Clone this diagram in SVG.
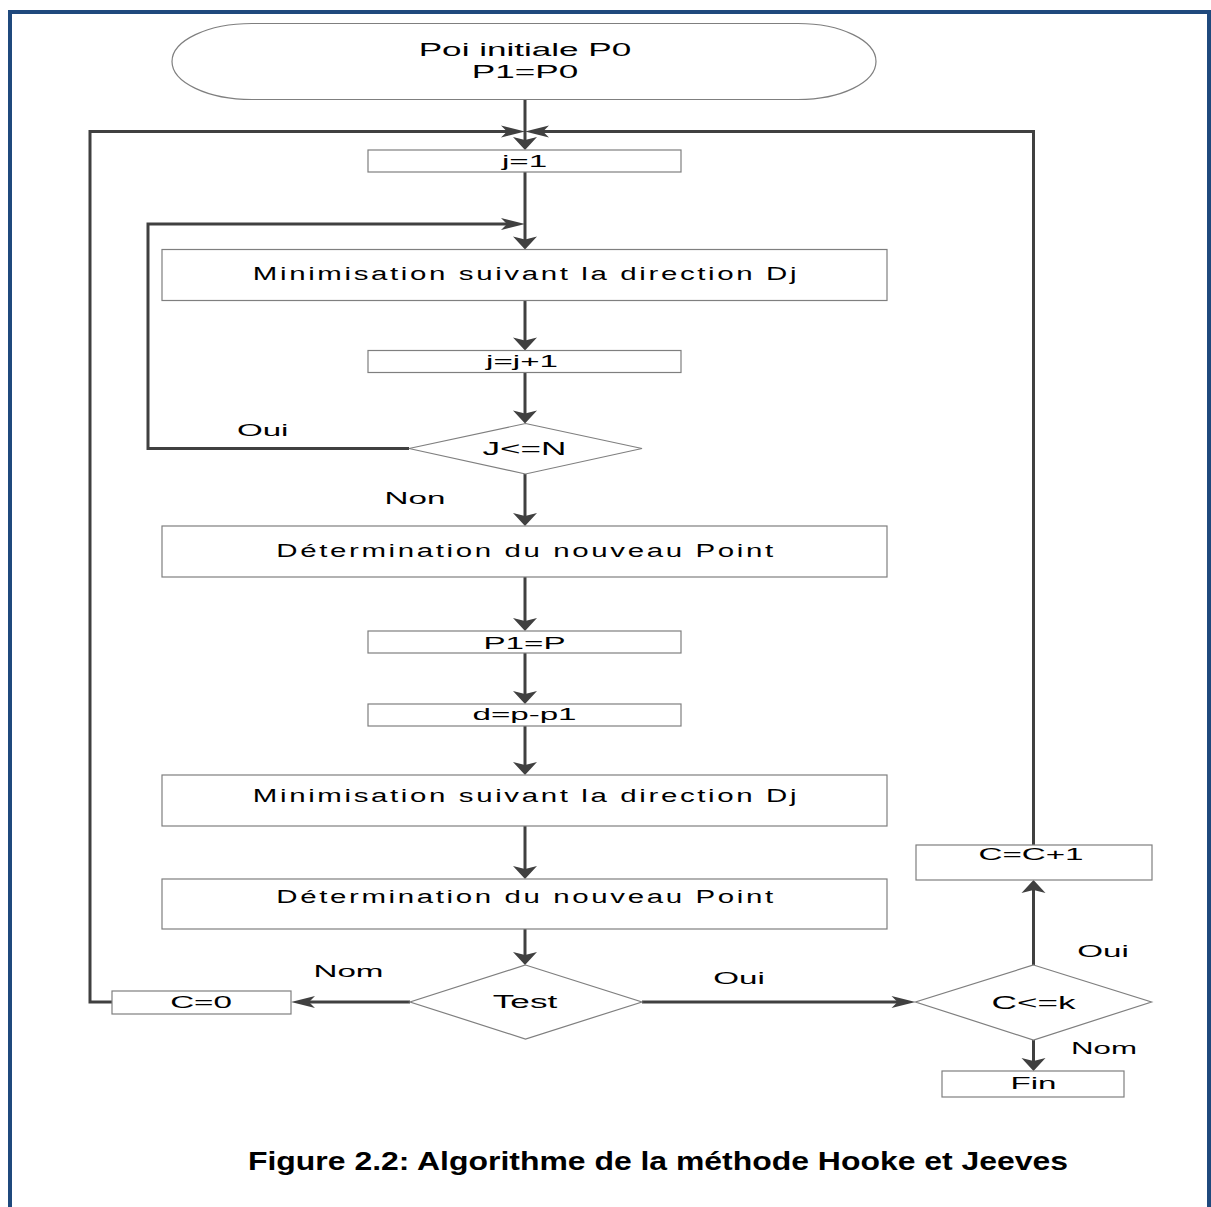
<svg xmlns="http://www.w3.org/2000/svg" width="1211" height="1207" viewBox="0 0 1211 1207">
<style>
.box{fill:#fff;stroke:#7f7f7f;stroke-width:1.2}
.conn{fill:none;stroke:#404040;stroke-width:3}
.t{font-family:"Liberation Sans",Arial,sans-serif;fill:#000;text-anchor:middle}
.s{font-size:17px}
.m{font-size:18px}
.b{font-size:19px;letter-spacing:1.7px}
.title{font-family:"Liberation Sans",Arial,sans-serif;font-weight:bold;font-size:25px;fill:#000;text-anchor:middle}
</style>
<defs>
<marker id="av" markerUnits="userSpaceOnUse" orient="auto" overflow="visible" markerWidth="30" markerHeight="30" refX="0" refY="0">
<path d="M8,0 L-5,-12 L-2,0 L-5,12 Z" fill="#404040"/>
</marker>
<marker id="ah" markerUnits="userSpaceOnUse" orient="auto" overflow="visible" markerWidth="30" markerHeight="30" refX="0" refY="0">
<path d="M8,0 L-16,-6 L-10,0 L-16,6 Z" fill="#404040"/>
</marker>
</defs>
<rect width="1211" height="1207" fill="#fff"/>
<path d="M10,1207 V12 H1209 V1207" fill="none" stroke="#1F497D" stroke-width="4"/>

<g id="connectors">
<path class="conn" d="M525,99.5 V142" marker-end="url(#av)"/>
<path class="conn" d="M112,1002 H90 V131.5 H517" marker-end="url(#ah)"/>
<path class="conn" d="M1033.5,845 V131.5 H533" marker-end="url(#ah)"/>
<path class="conn" d="M525,172 V241.5" marker-end="url(#av)"/>
<path class="conn" d="M409,448.5 H148 V224 H517" marker-end="url(#ah)"/>
<path class="conn" d="M525,300.5 V342.5" marker-end="url(#av)"/>
<path class="conn" d="M525,372.5 V415.5" marker-end="url(#av)"/>
<path class="conn" d="M525,474 V518" marker-end="url(#av)"/>
<path class="conn" d="M525,577 V623" marker-end="url(#av)"/>
<path class="conn" d="M525,653 V696" marker-end="url(#av)"/>
<path class="conn" d="M525,726 V767" marker-end="url(#av)"/>
<path class="conn" d="M525,826 V871" marker-end="url(#av)"/>
<path class="conn" d="M525,929 V957" marker-end="url(#av)"/>
<path class="conn" d="M410,1002 H299" marker-end="url(#ah)"/>
<path class="conn" d="M642,1002 H907.5" marker-end="url(#ah)"/>
<path class="conn" d="M1033.5,965 V888" marker-end="url(#av)"/>
<path class="conn" d="M1033.5,1040 V1063" marker-end="url(#av)"/>
<text class="t s" transform="translate(262.7,436) scale(1.95,1)">Oui</text>
<text class="t s" transform="translate(415,504) scale(1.95,1)">Non</text>
<text class="t s" transform="translate(348.5,977) scale(1.95,1)">Nom</text>
<text class="t s" transform="translate(739,984) scale(1.95,1)">Oui</text>
<text class="t s" transform="translate(1103,957) scale(1.95,1)">Oui</text>
<text class="t" style="font-size:16px" transform="translate(1104,1054) scale(1.95,1)">Nom</text>
</g>

<g id="start">
<path class="box" d="M252,23.5 H798 A78,38 0 0 1 798,99.5 H252 A80,38 0 0 1 252,23.5 Z"/>
<text class="t m" transform="translate(525,56) scale(1.95,1)">Poi initiale P0</text>
<text class="t m" transform="translate(525,77.5) scale(1.95,1)">P1=P0</text>
</g>

<g id="j1">
<rect class="box" x="368" y="150" width="313" height="22"/>
<text class="t s" transform="translate(524.5,167) scale(1.95,1)">j=1</text>
</g>

<g id="min1">
<rect class="box" x="162" y="249.5" width="725" height="51"/>
<text class="t b" transform="translate(526,280) scale(1.55,1)">Minimisation suivant la direction Dj</text>
</g>

<g id="jinc">
<rect class="box" x="368" y="350.5" width="313" height="22"/>
<text class="t s" transform="translate(522,367) scale(1.95,1)">j=j+1</text>
</g>

<g id="testJ">
<polygon class="box" points="525.5,423.5 642,448.5 525.5,474 409,448.5"/>
<text class="t m" transform="translate(524.5,455) scale(1.95,1)">J&lt;=N</text>
</g>

<g id="det1">
<rect class="box" x="162" y="526" width="725" height="51"/>
<text class="t b" transform="translate(526,557) scale(1.55,1)">Détermination du nouveau Point</text>
</g>

<g id="p1p">
<rect class="box" x="368" y="631" width="313" height="22"/>
<text class="t s" transform="translate(524.5,649) scale(1.95,1)">P1=P</text>
</g>

<g id="dpp">
<rect class="box" x="368" y="704" width="313" height="22"/>
<text class="t s" transform="translate(524.5,720) scale(1.95,1)">d=p-p1</text>
</g>

<g id="min2">
<rect class="box" x="162" y="775" width="725" height="51"/>
<text class="t b" transform="translate(526,802) scale(1.55,1)">Minimisation suivant la direction Dj</text>
</g>

<g id="det2">
<rect class="box" x="162" y="879" width="725" height="50"/>
<text class="t b" transform="translate(526,902.5) scale(1.55,1)">Détermination du nouveau Point</text>
</g>

<g id="test">
<polygon class="box" points="525.5,965 642,1002 525.5,1039 410,1002"/>
<text class="t m" transform="translate(525,1008) scale(1.95,1)">Test</text>
</g>

<g id="c0">
<rect class="box" x="112" y="991" width="179" height="23"/>
<text class="t s" transform="translate(201,1008) scale(1.95,1)">C=0</text>
</g>

<g id="testC">
<polygon class="box" points="1033.5,965 1151.5,1002 1033.5,1040 915.5,1002"/>
<text class="t m" transform="translate(1033.5,1008.5) scale(1.95,1)">C&lt;=k</text>
</g>

<g id="cinc">
<rect class="box" x="916" y="845" width="236" height="35"/>
<text class="t s" transform="translate(1031,859.5) scale(1.95,1)">C=C+1</text>
</g>

<g id="fin">
<rect class="box" x="942" y="1071" width="182" height="26"/>
<text class="t s" transform="translate(1033.5,1088.5) scale(1.95,1)">Fin</text>
</g>

<text class="title" x="658" y="1170" textLength="820" lengthAdjust="spacingAndGlyphs">Figure 2.2: Algorithme de la méthode Hooke et Jeeves</text>
</svg>
